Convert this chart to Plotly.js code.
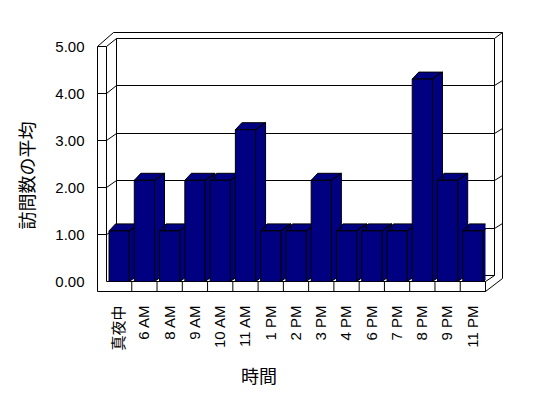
<!DOCTYPE html>
<html>
<head>
<meta charset="utf-8">
<script src="https://cdn.plot.ly/plotly-3.0.1.min.js"></script>
<style>
html,body{margin:0;padding:0;background:#ffffff;}
#chart{width:548px;height:398px;}
</style>
</head>
<body>
<div id="chart"></div>
<script>
// ---- data ----
const categories = ['真夜中','6 AM','8 AM','9 AM','10 AM','11 AM','1 PM','2 PM','3 PM','4 PM','6 PM','7 PM','8 PM','9 PM','11 PM'];
const visits = [1, 2, 1, 2, 2, 3, 1, 1, 2, 1, 1, 1, 4, 2, 1];
const yTickValues = [0, 1, 2, 3, 4, 5];
const yTickLabels = ['0.00', '1.00', '2.00', '3.00', '4.00', '5.00'];
const xTitle = '時間';
const yTitle = '訪問数の平均';

// ---- geometry of the 3-D frame (pixels) ----
const W = 548, H = 398;
const PX = x => x / W;
const PY = y => 1 - y / H;
const G = {
  fl: 97.5, fi: 106.5, bl: 116.5, br: 494.5, or: 502.5, fr: 485.5,
  frontTop: 46.5, frontFloor: 281.5, floorBottom: 291.5,
  backTop: 38.5, backFloor: 275.5, outerTop: 32.5, outerTopLeft: 113.5, outerRightBottom: 278.5
};
const yMax = yTickValues[yTickValues.length - 1];
const frontStep = (G.frontFloor - G.frontTop) / yMax;   // px per unit on the front axis edge
const backStep = (G.backFloor - G.backTop) / yMax;      // px per unit on the back wall
const frontY = v => G.frontFloor - v * frontStep;
const backY = v => Math.round(G.backFloor - 0.5 - v * backStep) + 0.5;
const barPxPerUnit = 50.6;                              // bars are nearer the viewer
const perspective = frontStep / barPxPerUnit;           // axis-edge scale relative to bar scale
const catPx = (G.fr - G.fi) / categories.length;
const halfW = 0.4, dxL = 6.5 / catPx, dxR = 10 / catPx, dy = 7 / barPxPerUnit;

// ---- bar polygons (top + side faces, then front faces) ----
const sx = [], sy = [], fx = [], fy = [];
visits.forEach((v, i) => {
  const L = i - halfW, R = i + halfW;
  sx.push(L, L + dxL, R + dxR, R, R + dxR, R + dxR, R, R, L, null);
  sy.push(v, v + dy, v + dy, v, v + dy, dy, 0, v, v, null);
  fx.push(L, L, R, R, L, null);
  fy.push(0, v, v, 0, 0, null);
});

const navy = '#000080';
const traces = [
  {type: 'scatter', mode: 'lines', x: sx, y: sy,
   fill: 'toself', fillcolor: navy, line: {color: '#000000', width: 1},
   hoverinfo: 'skip', showlegend: false},
  {type: 'scatter', mode: 'lines', x: fx, y: fy,
   fill: 'toself', fillcolor: navy, line: {color: '#000000', width: 1},
   hoverinfo: 'skip', showlegend: false, name: yTitle}
];

// ---- frame shapes ----
const shapes = [];
const ln = (x0, y0, x1, y1) => shapes.push({type: 'line', xref: 'paper', yref: 'paper',
  x0: PX(x0), y0: PY(y0), x1: PX(x1), y1: PY(y1), layer: 'below',
  line: {color: '#000000', width: 1}});
// left wall
ln(G.fl, G.frontTop, G.fl, G.floorBottom);
ln(G.fi, G.frontTop, G.fi, G.frontFloor);
ln(G.fl, G.frontTop, G.fi, G.frontTop);
ln(G.fl, G.frontTop, G.outerTopLeft, G.outerTop);
ln(G.fi, G.frontTop, G.bl, G.backTop);
// top and back wall
ln(G.outerTopLeft, G.outerTop, G.or, G.outerTop);
ln(G.bl, G.backTop, G.br, G.backTop);
ln(G.bl, G.backTop, G.bl, G.backFloor);
ln(G.br, G.backTop, G.br, G.backFloor);
ln(G.or, G.outerTop, G.or, G.outerRightBottom);
ln(G.br, G.backTop, G.or, G.outerTop);
// floor
ln(G.bl, G.backFloor, G.br, G.backFloor);
ln(G.fi, G.frontFloor, G.fr, G.frontFloor);
ln(G.fl, G.floorBottom, G.fr, G.floorBottom);
ln(G.fr, G.frontFloor, G.fr, G.floorBottom);
ln(G.fr, G.frontFloor, G.br, G.backFloor);
ln(G.fr, G.floorBottom, G.or, G.outerRightBottom);
// gridlines and wall tick marks
yTickValues.forEach(v => {
  if (v === 0 || v === yMax) return;
  ln(G.bl, backY(v), G.br, backY(v));
  ln(G.fl, frontY(v), G.fi, frontY(v));
  ln(G.fi, frontY(v), G.bl, backY(v));
  ln(G.br, backY(v), G.or, backY(v) - 5);
});
// category dividers on floor front
categories.forEach((c, i) => {
  if (i === 0) return;
  shapes.push({type: 'line', xref: 'x', yref: 'paper', x0: i - 0.5, x1: i - 0.5,
    y0: PY(G.frontFloor), y1: PY(G.floorBottom), layer: 'below',
    line: {color: '#000000', width: 1}});
});

const tickFont = {family: '"Liberation Sans", Arial, "Noto Sans CJK JP", sans-serif', size: 15, color: '#000000'};
const titleFont = {family: '"Noto Sans CJK JP", sans-serif', size: 18, color: '#000000'};

const layout = {
  width: W, height: H,
  margin: {l: 0, r: 0, t: 0, b: 0, pad: 0},
  paper_bgcolor: '#ffffff', plot_bgcolor: 'rgba(0,0,0,0)',
  showlegend: false,
  xaxis: {domain: [PX(G.fi), PX(G.fr)], range: [-0.5, categories.length - 0.5],
    tickmode: 'array', tickvals: categories.map((c, i) => i), ticktext: categories,
    tickangle: -90, ticks: 'outside', ticklen: 17, tickcolor: 'rgba(0,0,0,0)',
    showgrid: false, zeroline: false, showline: false, tickfont: tickFont, fixedrange: true},
  yaxis: {domain: [PY(G.frontFloor), PY(G.frontTop)],
    range: [0, (G.frontFloor - G.frontTop) / barPxPerUnit],
    tickmode: 'array', tickvals: yTickValues.map(v => v * perspective), ticktext: yTickLabels,
    ticks: 'outside', ticklen: 18, tickcolor: 'rgba(0,0,0,0)',
    showgrid: false, zeroline: false, showline: false, tickfont: tickFont, fixedrange: true},
  shapes: shapes,
  annotations: [
    {text: yTitle, xref: 'paper', yref: 'paper', x: PX(26), y: PY(175.5),
     textangle: -90, showarrow: false, xanchor: 'center', yanchor: 'middle', font: titleFont},
    {text: xTitle, xref: 'paper', yref: 'paper', x: PX(259), y: PY(375),
     showarrow: false, xanchor: 'center', yanchor: 'middle', font: titleFont}
  ]
};

Plotly.newPlot('chart', traces, layout, {staticPlot: true, displayModeBar: false});
</script>
</body>
</html>
